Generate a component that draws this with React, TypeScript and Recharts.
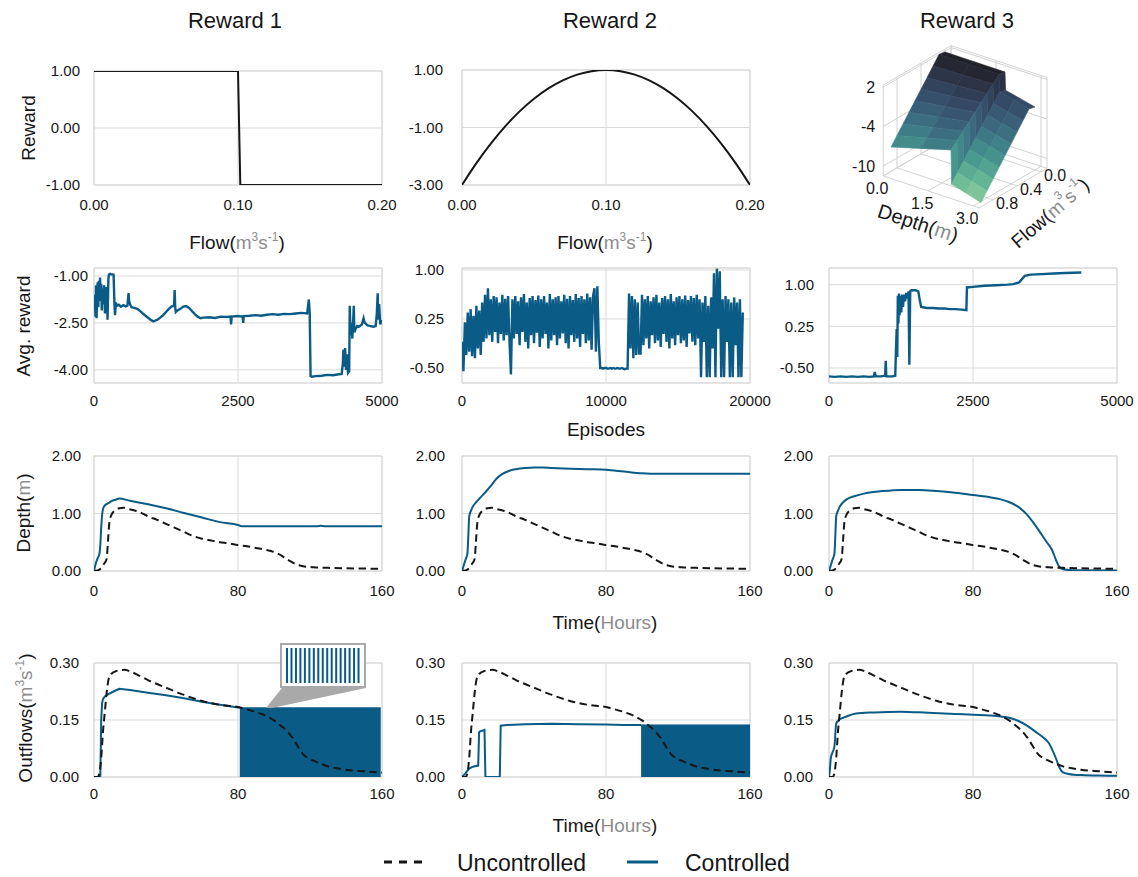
import React from 'react'
import {
  Area, Bar, BarChart, CartesianGrid, ComposedChart, Line, ReferenceArea,
  Scatter, ScatterChart, XAxis, YAxis,
} from 'recharts'

const BLUE = '#0b5b87'
const INK = '#161616'
const UNIT = '#8c8c8c'
const GRID = '#d9d9d9'
const FONT = '"Liberation Sans", Arial, Helvetica, sans-serif'

// ---- row 1: reward functions
const reward1Flow = [0, 0.1, 0.1016, 0.2]
const reward1Value = [1, 1, -1, -1]
const reward2Flow = [0, 0.01, 0.02, 0.03, 0.04, 0.05, 0.06, 0.07, 0.08, 0.09, 0.1, 0.11, 0.12, 0.13, 0.14, 0.15, 0.16, 0.17, 0.18, 0.19, 0.2]
const reward2Value = [-3, -2.24, -1.56, -0.96, -0.44, 0, 0.36, 0.64, 0.84, 0.96, 1, 0.96, 0.84, 0.64, 0.36, 0, -0.44, -0.96, -1.56, -2.24, -3]
const flowTicks = [0, 0.1, 0.2]
const reward1Ticks = [-1, 0, 1]
const reward2Ticks = [-3, -1, 1]

// reward 3 surface: rows = flow, columns = depth (2.0 -> 2.02 is the cliff)
const surfDepth = [0, 1, 2, 2.02, 2.5, 3]
const surfFlow = [0, 0.1, 0.2, 0.3, 0.4, 0.5, 0.6, 0.7, 0.8, 0.9]
const surfReward = [
  [1.85, 1.85, 1.85, -0.9, -1.4, -1.95],
  [2.0, 2.0, 2.0, -0.6, -1.15, -1.7],
  [0.78, 0.94, 1.1, -1.83, -2.38, -2.95],
  [-0.45, -0.12, 0.2, -3.05, -3.6, -4.2],
  [-1.67, -1.18, -0.7, -4.28, -4.83, -5.45],
  [-2.9, -2.24, -1.6, -5.5, -6.05, -6.7],
  [-4.12, -3.3, -2.5, -6.72, -7.28, -7.95],
  [-5.35, -4.36, -3.4, -7.95, -8.5, -9.2],
  [-6.57, -5.42, -4.3, -9.17, -9.75, -10.45],
  [-7.8, -6.5, -5.2, -10.4, -11.0, -11.7],
]
const ticks3dReward = [2, -4, -10]
const ticks3dDepth = [0, 1.5, 3]
const ticks3dFlow = [0, 0.4, 0.8]

// ---- row 2: training curves
const avgReward1Episode = [0, 15, 25, 35, 45, 55, 65, 75, 85, 95, 105, 115, 125, 135, 145, 160, 175, 190, 205, 220, 235, 250, 260, 280, 300, 320, 340, 355, 365, 380, 400, 430, 470, 510, 550, 580, 600, 610, 625, 650, 700, 750, 800, 850, 900, 950, 1000, 1030, 1060, 1100, 1150, 1200, 1250, 1300, 1350, 1390, 1400, 1410, 1420, 1450, 1500, 1550, 1600, 1650, 1700, 1750, 1800, 1850, 1900, 2000, 2100, 2200, 2300, 2370, 2380, 2390, 2500, 2580, 2590, 2600, 2700, 2800, 2900, 3000, 3100, 3200, 3300, 3400, 3500, 3600, 3700, 3730, 3745, 3760, 3780, 3850, 3950, 4050, 4150, 4250, 4300, 4320, 4330, 4345, 4360, 4375, 4390, 4410, 4430, 4440, 4455, 4470, 4485, 4500, 4510, 4520, 4540, 4570, 4600, 4650, 4680, 4700, 4750, 4800, 4850, 4890, 4910, 4925, 4935, 4950, 4970, 4990]
const avgReward1 = [-1.85, -1.6, -2.3, -1.3, -2.35, -1.4, -1.2, -2.0, -1.15, -1.8, -1.05, -1.7, -1.25, -2.1, -1.4, -1.9, -1.3, -2.2, -1.5, -1.35, -2.4, -1.1, -0.95, -0.93, -0.95, -0.95, -0.96, -1.9, -2.25, -1.85, -1.95, -1.92, -1.98, -1.93, -1.97, -1.95, -1.55, -1.8, -1.9, -2.0, -2.02, -2.05, -2.12, -2.2, -2.28, -2.35, -2.42, -2.45, -2.43, -2.4, -2.33, -2.25, -2.15, -2.05, -1.97, -1.95, -1.45, -2.0, -2.15, -2.1, -2.05, -1.98, -1.96, -2.02, -2.12, -2.22, -2.3, -2.35, -2.33, -2.32, -2.34, -2.3, -2.31, -2.3, -2.55, -2.3, -2.28, -2.3, -2.5, -2.28, -2.27, -2.25, -2.27, -2.24, -2.22, -2.24, -2.21, -2.22, -2.2, -2.18, -2.2, -1.75, -2.2, -4.2, -4.22, -4.2, -4.19, -4.16, -4.17, -4.14, -4.13, -3.8, -3.35, -3.9, -3.3, -4.0, -3.5, -4.1, -4.05, -1.95, -2.9, -2.5, -3.0, -2.4, -1.95, -2.8, -2.7, -2.6, -2.62, -2.55, -2.35, -2.5, -2.58, -2.6, -2.62, -2.6, -2.2, -1.55, -2.4, -1.9, -2.55, -2.4]

// reward 2 training curve, one value every 100 episodes from 0
const avgReward2Step = 100
const avgReward2 = [
  -0.10, -0.55, 0.20, -0.30, 0.35, -0.25, 0.40, -0.32, 0.30, -0.35, 0.45, -0.20, 0.38, -0.30, 0.50,
  -0.10, 0.62, -0.05, 0.72, 0.00, 0.55, -0.10, 0.60, 0.05, 0.58, -0.12, 0.50, 0.02, 0.62, -0.08, 0.56, 0.00, 0.60, -0.10,
  -0.60,
  0.55, -0.05, 0.60, 0.02, 0.52, -0.15, 0.58, 0.05, 0.63, -0.10,
  0.50, -0.20, 0.57, 0.00, 0.60, -0.12, 0.54, 0.04, 0.61, -0.18,
  0.55, -0.05, 0.60, 0.02, 0.50, -0.20, 0.63, -0.08, 0.55, 0.00,
  0.58, -0.15, 0.60, -0.05, 0.52, 0.03, 0.62, -0.12, 0.56, -0.20,
  0.60, 0.00, 0.54, -0.10, 0.63, -0.05, 0.57, -0.18, 0.60, 0.02,
  0.55, -0.12, 0.64, -0.08, 0.58, -0.22, 0.60,
  0.72, -0.25, 0.75, -0.10,
  -0.50, -0.50, -0.51, -0.50, -0.50, -0.51, -0.51, -0.50, -0.51, -0.50, -0.51, -0.51, -0.50, -0.51, -0.51, -0.50, -0.51, -0.52, -0.51, -0.51,
  0.64, -0.20, 0.60, -0.35, 0.55, -0.30, 0.50,
  -0.28, -0.28,
  0.62, -0.15, 0.55, -0.05, 0.60, -0.20, 0.52, 0.00, 0.58, -0.12,
  0.62, -0.08, 0.50, -0.18, 0.57, 0.02, 0.60, -0.10, 0.55, -0.20,
  0.63, -0.05, 0.52, -0.15, 0.58, 0.00, 0.60, -0.12, 0.55, -0.08,
  0.61, -0.18, 0.54, 0.03, 0.60, -0.10, 0.57, -0.15, 0.62, -0.05,
  0.55, -0.64, 0.50, -0.10, 0.60, -0.64, 0.45, -0.64, 0.58, -0.20,
  0.95, -0.64, 1.02, 0.10, 0.98, -0.64, 0.55, -0.64, 0.60, -0.10,
  0.55, -0.64, 0.50, -0.64, 0.58, -0.15, 0.50, -0.64, 0.55, -0.64,
  0.35,
]

const avgReward3Episode = [0, 100, 200, 300, 400, 500, 600, 700, 780, 795, 810, 900, 975, 985, 995, 1100, 1150, 1165, 1175, 1185, 1195, 1205, 1215, 1225, 1240, 1255, 1270, 1285, 1300, 1320, 1340, 1360, 1380, 1395, 1410, 1430, 1500, 1550, 1580, 1600, 1700, 1800, 1900, 2000, 2100, 2200, 2300, 2385, 2395, 2500, 2700, 2900, 3100, 3200, 3300, 3350, 3400, 3500, 3700, 3900, 4100, 4380]
const avgReward3 = [-0.65, -0.66, -0.65, -0.66, -0.65, -0.66, -0.65, -0.66, -0.65, -0.57, -0.65, -0.65, -0.64, -0.37, -0.65, -0.65, -0.64, -0.1, 0.2, -0.3, 0.8, 0.3, 0.84, 0.45, 0.8, 0.5, 0.82, 0.6, 0.82, 0.7, 0.85, 0.75, 0.88, -0.44, 0.88, 0.9, 0.9, 0.88, 0.7, 0.6, 0.58, 0.58, 0.57, 0.57, 0.56, 0.56, 0.55, 0.54, 0.95, 0.96, 0.98, 0.99, 1.0, 1.01, 1.04, 1.1, 1.16, 1.18, 1.19, 1.2, 1.21, 1.22]

// ---- row 3: depth (m) over time (hours)
const uncDepthT = [0, 2, 4, 5.5, 7, 7.8, 8.5, 9.6, 12, 14, 16.6, 19, 25, 30, 35, 40, 45, 50, 55, 60, 65, 70, 75, 80, 85, 90, 95, 100, 103, 106, 109, 112, 115, 118, 122, 130, 140, 150, 160]
const uncDepthV = [0, 0.01, 0.05, 0.12, 0.21, 0.53, 0.83, 0.97, 1.06, 1.09, 1.1, 1.08, 1.03, 0.95, 0.89, 0.82, 0.75, 0.68, 0.61, 0.56, 0.53, 0.5, 0.48, 0.45, 0.43, 0.4, 0.37, 0.33, 0.29, 0.23, 0.17, 0.12, 0.09, 0.075, 0.065, 0.055, 0.048, 0.042, 0.037]
const ctrlDepth1T = [0, 1, 2, 3, 3.5, 4, 4.5, 5, 6, 8, 10, 12, 14, 20, 30, 40, 50, 60, 70, 80, 82, 124, 126, 128, 160]
const ctrlDepth1V = [0, 0.13, 0.22, 0.3, 0.45, 0.75, 0.97, 1.08, 1.14, 1.18, 1.22, 1.24, 1.26, 1.22, 1.16, 1.09, 1.01, 0.93, 0.85, 0.8, 0.78, 0.78, 0.785, 0.78, 0.78]
const ctrlDepth2T = [0, 1, 2, 3, 3.5, 4, 5, 6, 8, 10, 13, 16, 19, 22, 26, 30, 35, 40, 45, 50, 60, 70, 80, 90, 100, 110, 160]
const ctrlDepth2V = [0, 0.1, 0.2, 0.3, 0.6, 0.95, 1.05, 1.12, 1.2, 1.27, 1.37, 1.48, 1.6, 1.68, 1.74, 1.77, 1.79, 1.8, 1.8, 1.79, 1.78, 1.77, 1.76, 1.73, 1.7, 1.69, 1.69]
const ctrlDepth3T = [0, 1, 2, 3, 3.5, 4, 5, 6, 8, 10, 14, 20, 30, 40, 50, 60, 70, 80, 90, 95, 100, 105, 110, 114, 118, 121, 124, 126, 128, 130, 135, 160]
const ctrlDepth3V = [0, 0.1, 0.2, 0.3, 0.6, 0.95, 1.05, 1.12, 1.2, 1.25, 1.3, 1.35, 1.39, 1.41, 1.41, 1.39, 1.36, 1.32, 1.28, 1.25, 1.2, 1.12, 0.98, 0.82, 0.64, 0.5, 0.36, 0.2, 0.07, 0.03, 0.015, 0.01]

// ---- row 4: outflows (m3/s) over time (hours)
const uncFlowT = [0, 2, 3, 4, 5, 6, 7, 8, 9, 10, 12, 14, 17, 20, 25, 30, 40, 50, 60, 70, 80, 85, 90, 95, 100, 104, 107, 110, 113, 116, 119, 122, 126, 130, 135, 140, 150, 160]
const uncFlowV = [0, 0, 0.01, 0.05, 0.12, 0.17, 0.22, 0.255, 0.268, 0.273, 0.278, 0.281, 0.282, 0.278, 0.267, 0.255, 0.235, 0.216, 0.2, 0.19, 0.184, 0.178, 0.171, 0.162, 0.149, 0.134, 0.122, 0.105, 0.083, 0.061, 0.05, 0.043, 0.035, 0.028, 0.023, 0.019, 0.015, 0.012]
const ctrlFlow1T = [0, 3.5, 4, 4.5, 5, 6, 8, 10, 14, 20, 30, 40, 50, 60, 70, 80, 81]
const ctrlFlow1V = [0, 0, 0.15, 0.195, 0.205, 0.212, 0.218, 0.223, 0.232, 0.229, 0.222, 0.215, 0.207, 0.198, 0.19, 0.183, 0.183]
const ctrlPulse1T = [81, 159.3]
const ctrlPulse1V = [0.182, 0.182]
const ctrlFlow2T = [0, 2, 4, 6, 9, 9.5, 10, 12, 12.5, 13, 21, 21.5, 25, 35, 50, 65, 80, 90, 99.5]
const ctrlFlow2V = [0, 0.01, 0.022, 0.027, 0.03, 0.118, 0.12, 0.123, 0.124, 0, 0, 0.135, 0.137, 0.139, 0.14, 0.139, 0.138, 0.137, 0.137]
const ctrlPulse2T = [99.5, 160]
const ctrlPulse2V = [0.137, 0.137]
const ctrlFlow3T = [0, 0.5, 1, 2, 3, 4, 5, 6, 8, 10, 15, 25, 40, 55, 70, 80, 90, 100, 105, 110, 115, 120, 122, 124, 126, 128, 130, 133, 140, 150, 160]
const ctrlFlow3V = [0, 0.02, 0.05, 0.065, 0.08, 0.14, 0.148, 0.152, 0.156, 0.16, 0.167, 0.17, 0.172, 0.169, 0.166, 0.164, 0.162, 0.156, 0.148, 0.135, 0.118, 0.1, 0.09, 0.072, 0.05, 0.025, 0.012, 0.008, 0.005, 0.004, 0.003]
const insetPulses = [1, 1, 1, 1, 1, 1, 1, 1, 1, 1, 1, 1, 1, 1, 1, 1, 1]

const timeTicks = [0, 80, 160]
const depthTicks = [0, 1, 2]
const outflowTicks = [0, 0.15, 0.3]

const pts = (xs: number[], ys: number[]) => xs.map((x, i) => ({ x, y: ys[i] }))
const fmt2 = (v: number) => v.toFixed(2)
const fmtInt = (v: number) => String(v)
const tickStyle = { fontSize: 15, fill: INK }

type PanelProps = {
  left: number; top: number; h?: number
  xDomain: [number, number]; xTicks: number[]; xFmt?: (v: number) => string; xGap: number
  yDomain: [number, number]; yTicks: number[]; yGap: number
  children: React.ReactNode
}

function Panel({ left, top, h = 115, xDomain, xTicks, xFmt = fmtInt, xGap, yDomain, yTicks, yGap, children }: PanelProps) {
  const w = 288, padL = 90, padR = 40, padT = 10, axisH = 40
  return (
    <div style={{ position: 'absolute', left: left - padL, top: top - padT }}>
      <ComposedChart width={padL + w + padR} height={padT + h + axisH} margin={{ top: padT, right: padR, bottom: 0, left: 0 }}>
        <CartesianGrid stroke={GRID} />
        <ReferenceArea x1={xDomain[0]} x2={xDomain[1]} y1={yDomain[0]} y2={yDomain[1]} fill="none" stroke={GRID} />
        <XAxis type="number" dataKey="x" domain={xDomain} ticks={xTicks} interval={0} allowDataOverflow height={axisH}
          axisLine={false} tickLine={false} tickSize={0} tickMargin={xGap} tick={tickStyle} tickFormatter={xFmt} />
        <YAxis type="number" dataKey="y" domain={yDomain} ticks={yTicks} interval={0} allowDataOverflow width={padL}
          axisLine={false} tickLine={false} tickSize={0} tickMargin={yGap} tick={tickStyle} tickFormatter={fmt2} />
        {children}
      </ComposedChart>
    </div>
  )
}

const blueLine = (data: { x: number, y: number }[], type: 'linear' | 'monotone' = 'linear', width = 2) => (
  <Line data={data} dataKey="y" type={type} stroke={BLUE} strokeWidth={width} dot={false} isAnimationActive={false} />
)
const dashedLine = (data: { x: number, y: number }[]) => (
  <Line data={data} dataKey="y" type="monotone" stroke={INK} strokeWidth={2} strokeDasharray="7.5 4.5" dot={false} isAnimationActive={false} />
)
const pulseBlock = (data: { x: number, y: number }[]) => (
  <Area data={data} dataKey="y" type="linear" stroke={BLUE} fill={BLUE} fillOpacity={1} isAnimationActive={false} />
)

// ---- 3D panel helpers (oblique projection into page pixels)
const proj = (d: number, f: number, z: number) => ({ x: 945 + 30 * d - 60 * f, y: 64.2 + 10 * d + 35 * f - 6.58 * z })

const surfaceStops: [number, string][] = [
  [-12, '#9ad4a0'], [-9.5, '#63b595'], [-7.5, '#48998f'], [-5.5, '#3e7e87'],
  [-3.5, '#3a627b'], [-1.5, '#354a66'], [0.5, '#2c3346'], [2, '#202127'],
]
const hex = (c: string) => [1, 3, 5].map((i) => parseInt(c.slice(i, i + 2), 16))
function surfaceColor(z: number) {
  const s = surfaceStops
  if (z <= s[0][0]) return s[0][1]
  for (let i = 1; i < s.length; i++) {
    if (z <= s[i][0]) {
      const t = (z - s[i - 1][0]) / (s[i][0] - s[i - 1][0])
      const a = hex(s[i - 1][1]), b = hex(s[i][1])
      return `rgb(${a.map((v, k) => Math.round(v + (b[k] - v) * t)).join(',')})`
    }
  }
  return s[s.length - 1][1]
}

const surfaceCells: any[] = []
for (let c = 0; c < surfDepth.length - 1; c++) {
  for (let r = 0; r < surfFlow.length - 1; r++) {
    const idx = [[c, r], [c + 1, r], [c + 1, r + 1], [c, r + 1]]
    const corners = idx.map(([ci, ri]) => proj(surfDepth[ci], surfFlow[ri], surfReward[ri][ci]))
    const zMean = idx.reduce((s, [ci, ri]) => s + surfReward[ri][ci], 0) / 4
    surfaceCells.push({
      x: corners.reduce((s, p) => s + p.x, 0) / 4,
      y: corners.reduce((s, p) => s + p.y, 0) / 4,
      pts: corners,
      color: surfaceColor(zMean),
    })
  }
}

const B = { d0: 0, d1: 3.2, f0: -0.1, f1: 1.03, z0: -11.5, z1: 2.3 }
type P3 = [number, number, number]
const boxEdges: [P3, P3][] = [
  [[0, B.f1, B.z0], [0, B.f1, B.z1]], [[0, B.f1, B.z1], [0, B.f0, B.z1]], [[0, B.f0, B.z0], [0, B.f0, B.z1]], [[0, B.f1, B.z0], [0, B.f0, B.z0]],
  [[0, B.f0, B.z1], [B.d1, B.f0, B.z1]], [[B.d1, B.f0, B.z0], [B.d1, B.f0, B.z1]], [[0, B.f0, B.z0], [B.d1, B.f0, B.z0]],
  [[0, B.f1, B.z0], [B.d1, B.f1, B.z0]], [[B.d1, B.f1, B.z0], [B.d1, B.f0, B.z0]],
  ...ticks3dReward.flatMap((z): [P3, P3][] => [[[0, B.f1, z], [0, B.f0, z]], [[0, B.f0, z], [B.d1, B.f0, z]]]),
  ...ticks3dDepth.flatMap((d): [P3, P3][] => [[[d, B.f1, B.z0], [d, B.f0, B.z0]], [[d, B.f0, B.z0], [d, B.f0, B.z1]]]),
  ...ticks3dFlow.flatMap((f): [P3, P3][] => [[[0, f, B.z0], [B.d1, f, B.z0]], [[0, f, B.z0], [0, f, B.z1]]]),
]
const boxSegments = boxEdges.map(([p, q]) => {
  const a = proj(...p), b = proj(...q)
  return { x: (a.x + b.x) / 2, y: (a.y + b.y) / 2, a, b }
})
const labels3d = [
  ...ticks3dReward.map((z) => { const p = proj(0, B.f1, z); return { x: p.x - 8, y: p.y, text: String(z), anchor: 'end' } }),
  ...ticks3dDepth.map((d) => { const p = proj(d, B.f1, B.z0); return { x: p.x - 6, y: p.y + 13, text: d.toFixed(1), anchor: 'middle' } }),
  ...ticks3dFlow.map((f) => { const p = proj(B.d1, f, B.z0); return { x: p.x + 14, y: p.y + 4, text: f.toFixed(1), anchor: 'middle' } }),
]

const QuadShape = (p: any) => {
  const { cx, cy, payload } = p
  const s = payload.pts.map((q: any) => `${(cx + q.x - payload.x).toFixed(1)},${(cy + q.y - payload.y).toFixed(1)}`).join(' ')
  return <polygon points={s} fill={payload.color} stroke={payload.color} strokeWidth={0.6} />
}
const SegShape = (p: any) => {
  const { cx, cy, payload } = p
  return <line x1={cx + payload.a.x - payload.x} y1={cy + payload.a.y - payload.y} x2={cx + payload.b.x - payload.x} y2={cy + payload.b.y - payload.y} stroke="#d2d2d2" strokeWidth={1} />
}
const LabelShape = (p: any) => (
  <text x={p.cx} y={p.cy} textAnchor={p.payload.anchor} dominantBaseline="central" fontSize={16} fill={INK}>{p.payload.text}</text>
)

function FlowUnits({ size }: { size: number }) {
  const s = Math.round(size * 0.65)
  const up = Math.round(size * 0.42)
  return (
    <>
      (<tspan fill={UNIT}>m</tspan>
      <tspan fill={UNIT} fontSize={s} dy={-up}>3</tspan>
      <tspan fill={UNIT} dy={up}>s</tspan>
      <tspan fill={UNIT} fontSize={s} dy={-up}>-1</tspan>
      <tspan dy={up}>)</tspan>
    </>
  )
}

const colLeft = [94, 462, 829]

export default function App() {
  return (
    <div style={{ position: 'absolute', left: 0, top: 0, width: 1138, height: 877, overflow: 'hidden', background: '#fff', fontFamily: FONT, color: INK }}>
      {/* row 1 */}
      <Panel left={colLeft[0]} top={71} h={114} xDomain={[0, 0.2]} xTicks={flowTicks} xFmt={fmt2} xGap={14} yDomain={[-1, 1]} yTicks={reward1Ticks} yGap={14}>
        <Line data={pts(reward1Flow, reward1Value)} dataKey="y" type="linear" stroke={INK} strokeWidth={2} dot={false} isAnimationActive={false} />
      </Panel>
      <Panel left={colLeft[1]} top={70} xDomain={[0, 0.2]} xTicks={flowTicks} xFmt={fmt2} xGap={14} yDomain={[-3, 1]} yTicks={reward2Ticks} yGap={19}>
        <Line data={pts(reward2Flow, reward2Value)} dataKey="y" type="monotone" stroke={INK} strokeWidth={2} dot={false} isAnimationActive={false} />
      </Panel>

      {/* row 2 */}
      <Panel left={colLeft[0]} top={268} xDomain={[0, 5000]} xTicks={[0, 2500, 5000]} xGap={12} yDomain={[-4.42, -0.745]} yTicks={[-4, -2.5, -1]} yGap={6}>
        {blueLine(pts(avgReward1Episode, avgReward1), 'linear', 2.4)}
      </Panel>
      <Panel left={colLeft[1]} top={268} xDomain={[0, 20000]} xTicks={[0, 10000, 20000]} xGap={12} yDomain={[-0.73, 1.03]} yTicks={[-0.5, 0.25, 1]} yGap={18}>
        {blueLine(avgReward2.map((v, i) => ({ x: i * avgReward2Step, y: v })), 'linear', 2.4)}
      </Panel>
      <Panel left={colLeft[2]} top={268} xDomain={[0, 5000]} xTicks={[0, 2500, 5000]} xGap={12} yDomain={[-0.77, 1.3]} yTicks={[-0.5, 0.25, 1]} yGap={15}>
        {blueLine(pts(avgReward3Episode, avgReward3), 'linear', 2.4)}
      </Panel>

      {/* row 3 */}
      <Panel left={colLeft[0]} top={456} xDomain={[0, 160]} xTicks={timeTicks} xGap={14} yDomain={[0, 2]} yTicks={depthTicks} yGap={13}>
        {blueLine(pts(ctrlDepth1T, ctrlDepth1V), 'monotone')}
        {dashedLine(pts(uncDepthT, uncDepthV))}
      </Panel>
      <Panel left={colLeft[1]} top={456} xDomain={[0, 160]} xTicks={timeTicks} xGap={14} yDomain={[0, 2]} yTicks={depthTicks} yGap={17}>
        {blueLine(pts(ctrlDepth2T, ctrlDepth2V), 'monotone')}
        {dashedLine(pts(uncDepthT, uncDepthV))}
      </Panel>
      <Panel left={colLeft[2]} top={456} xDomain={[0, 160]} xTicks={timeTicks} xGap={14} yDomain={[0, 2]} yTicks={depthTicks} yGap={16}>
        {blueLine(pts(ctrlDepth3T, ctrlDepth3V), 'monotone')}
        {dashedLine(pts(uncDepthT, uncDepthV))}
      </Panel>

      {/* row 4 */}
      <Panel left={colLeft[0]} top={663} h={114} xDomain={[0, 160]} xTicks={timeTicks} xGap={11} yDomain={[0, 0.3]} yTicks={outflowTicks} yGap={15}>
        {pulseBlock(pts(ctrlPulse1T, ctrlPulse1V))}
        {blueLine(pts(ctrlFlow1T, ctrlFlow1V))}
        {dashedLine(pts(uncFlowT, uncFlowV))}
      </Panel>
      <Panel left={colLeft[1]} top={663} h={114} xDomain={[0, 160]} xTicks={timeTicks} xGap={11} yDomain={[0, 0.3]} yTicks={outflowTicks} yGap={17}>
        {pulseBlock(pts(ctrlPulse2T, ctrlPulse2V))}
        {blueLine(pts(ctrlFlow2T, ctrlFlow2V))}
        {dashedLine(pts(uncFlowT, uncFlowV))}
      </Panel>
      <Panel left={colLeft[2]} top={663} h={114} xDomain={[0, 160]} xTicks={timeTicks} xGap={11} yDomain={[0, 0.3]} yTicks={outflowTicks} yGap={16}>
        {blueLine(pts(ctrlFlow3T, ctrlFlow3V), 'monotone')}
        {dashedLine(pts(uncFlowT, uncFlowV))}
      </Panel>

      {/* reward 3 surface */}
      <div style={{ position: 'absolute', left: 820, top: 20 }}>
        <ScatterChart width={300} height={240} margin={{ top: 0, right: 0, bottom: 0, left: 0 }}>
          <XAxis type="number" dataKey="x" domain={[820, 1120]} hide allowDataOverflow />
          <YAxis type="number" dataKey="y" domain={[20, 260]} reversed hide allowDataOverflow />
          <Scatter data={boxSegments} shape={SegShape} isAnimationActive={false} />
          <Scatter data={surfaceCells} shape={QuadShape} isAnimationActive={false} />
          <Scatter data={labels3d} shape={LabelShape} isAnimationActive={false} />
        </ScatterChart>
      </div>

      {/* titles, axis labels, legend */}
      <svg width={1138} height={877} style={{ position: 'absolute', left: 0, top: 0, pointerEvents: 'none' }} fontFamily={FONT} fill={INK}>
        <g fontSize={22} textAnchor="middle">
          <text x={235} y={28}>Reward 1</text>
          <text x={610} y={28}>Reward 2</text>
          <text x={967} y={28}>Reward 3</text>
        </g>
        <g fontSize={19} textAnchor="middle">
          <text x={237} y={249}>Flow<FlowUnits size={19} /></text>
          <text x={605} y={249}>Flow<FlowUnits size={19} /></text>
          <text x={606} y={436}>Episodes</text>
          <text x={605} y={629}>Time(<tspan fill={UNIT}>Hours</tspan>)</text>
          <text x={605} y={832}>Time(<tspan fill={UNIT}>Hours</tspan>)</text>
          <text transform="translate(35,128) rotate(-90)">Reward</text>
          <text transform="translate(30,326) rotate(-90)">Avg. reward</text>
          <text transform="translate(30,513) rotate(-90)">Depth(<tspan fill={UNIT}>m</tspan>)</text>
          <text transform="translate(32,718) rotate(-90)">Outflows<FlowUnits size={19} /></text>
          <text transform="translate(918,223) rotate(18)" dominantBaseline="central" fontSize={20}>Depth(<tspan fill={UNIT}>m</tspan>)</text>
          <text transform="translate(1050,213) rotate(-41)" dominantBaseline="central">Flow<FlowUnits size={19} /></text>
        </g>
        <polygon points="282,688 366,688 272,708 266,708" fill="#a9a9a9" />
        <line x1={384} x2={424} y1={862} y2={862} stroke={INK} strokeWidth={3} strokeDasharray="8 7" />
        <text x={457} y={871} fontSize={23}>Uncontrolled</text>
        <line x1={627} x2={658} y1={862} y2={862} stroke={BLUE} strokeWidth={3} />
        <text x={685} y={871} fontSize={23}>Controlled</text>
      </svg>

      {/* zoomed view of the on/off valve pulses */}
      <div style={{ position: 'absolute', left: 280, top: 643, width: 86, height: 45, border: '2px solid #a9a9a9', background: '#fff', boxSizing: 'border-box' }}>
        <BarChart width={82} height={41} data={insetPulses.map((v, i) => ({ i, v }))} margin={{ top: 3, right: 3, bottom: 3, left: 3 }} barCategoryGap={0}>
          <XAxis dataKey="i" hide />
          <YAxis hide domain={[0, 1]} />
          <Bar dataKey="v" fill={BLUE} barSize={2} isAnimationActive={false} />
        </BarChart>
      </div>
    </div>
  )
}
